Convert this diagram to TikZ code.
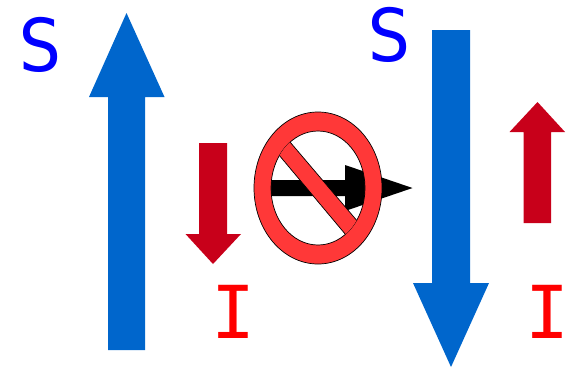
\documentclass[tikz,border=0pt]{standalone}
\usepackage{fontspec}
\setmonofont{DejaVu Sans Mono}
\definecolor{bluearrow}{HTML}{0066CC}
\definecolor{redarrow}{HTML}{C8001A}
\definecolor{signred}{HTML}{FF3838}
\tikzset{
  bigarrow/.style={fill=bluearrow,draw=none},
  smallarrow/.style={fill=redarrow,draw=none},
  spinS/.style={text=blue,inner sep=0pt,anchor=base,font=\fontsize{73}{73}\selectfont\ttfamily},
  spinI/.style={text=red,inner sep=0pt,anchor=base,font=\fontsize{73}{73}\selectfont\ttfamily},
  signline/.style={draw=black,line width=0.7pt}
}
\begin{document}
\begin{tikzpicture}[x=1pt,y=-1pt]
\useasboundingbox (0,0) rectangle (577,368);
% blue arrows
\fill[bigarrow] (126.5,13) -- (164.5,97) -- (145,97) -- (145,350) -- (108,350) -- (108,97) -- (89,97) -- cycle;
\fill[bigarrow] (451,367) -- (489,283) -- (470,283) -- (470,30) -- (432,30) -- (432,283) -- (413,283) -- cycle;
% red arrows
\fill[smallarrow] (213,264) -- (241,234) -- (227,234) -- (227,143) -- (199,143) -- (199,234) -- (185.5,234) -- cycle;
\fill[smallarrow] (537.5,102) -- (565,132) -- (551,132) -- (551,223) -- (523.5,223) -- (523.5,132) -- (509.5,132) -- cycle;
% black arrow
\fill[black] (412.5,188) -- (345,165) -- (345,180) -- (268,180) -- (268,196) -- (345,196) -- (345,211) -- cycle;
% prohibition sign
\path[fill=signred,even odd rule,signline] (318,188) ellipse [x radius=64,y radius=76] (318,188) ellipse [x radius=47,y radius=57];
\begin{scope}
\clip (318,188) ellipse [x radius=47,y radius=57];
\path[fill=signred,signline] (281,131.4) -- (366,231.3) -- (356,247) -- (268,141.9) -- cycle;
\end{scope}
% labels
\node[spinS] (s1) at (40,71) {S};
\node[spinS] (s2) at (389,61) {S};
\node[spinI] (i1) at (233.5,338) {I};
\node[spinI] (i2) at (547,338) {I};
\end{tikzpicture}
\end{document}
